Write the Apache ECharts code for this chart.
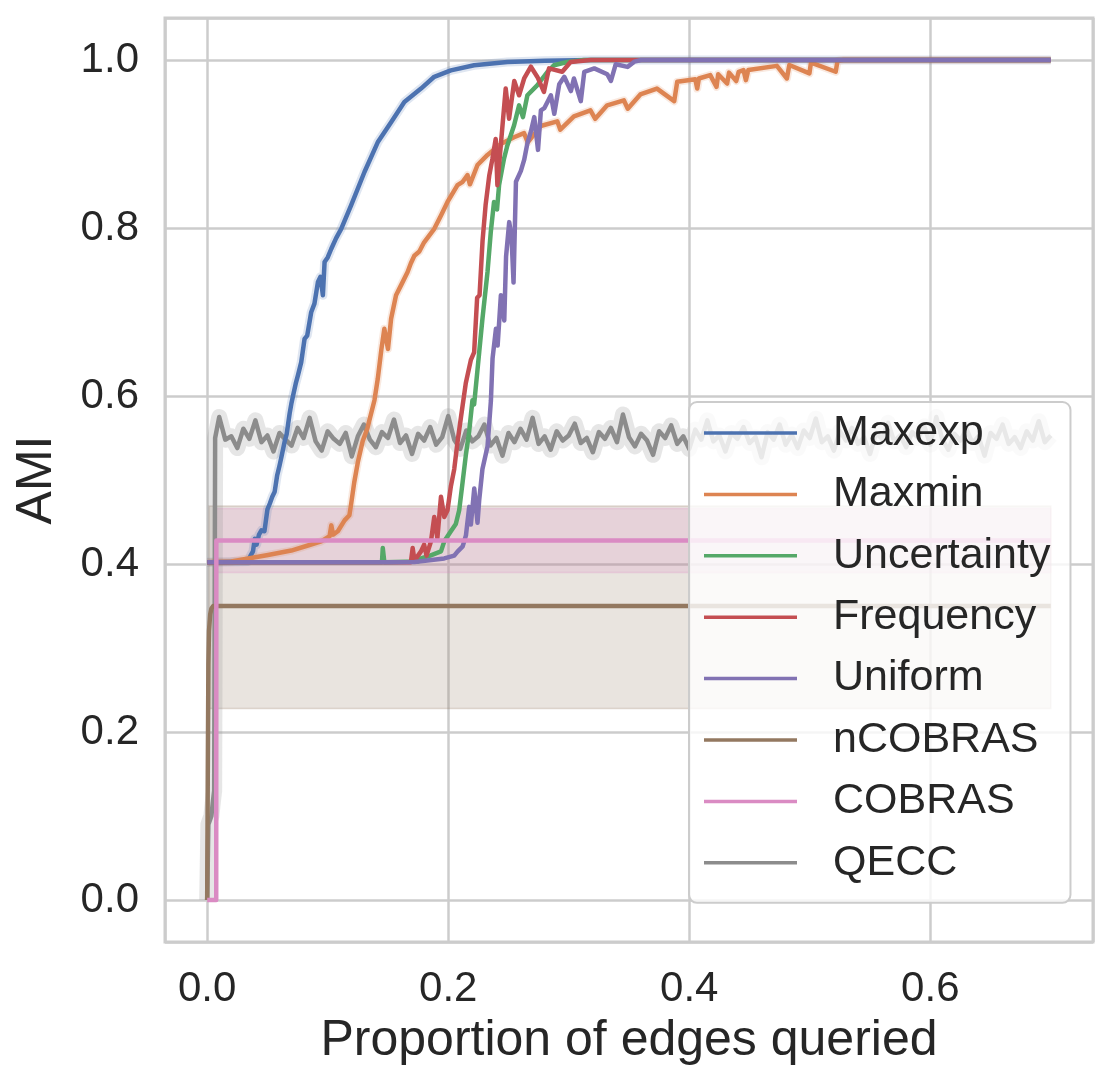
<!DOCTYPE html>
<html>
<head>
  <meta charset="utf-8">
  <title>AMI vs proportion of edges queried</title>
  <script src="https://cdn.jsdelivr.net/npm/echarts@6/dist/echarts.min.js"></script>
  <style>
    html, body { margin: 0; padding: 0; background: #fff; }
    #main { width: 1115px; height: 1089px; }
  </style>
</head>
<body>
<div id="main"></div>
<script>
  // series names and seaborn "deep" colours, in legend order
  var names = ['Maxexp', 'Maxmin', 'Uncertainty', 'Frequency', 'Uniform', 'nCOBRAS', 'COBRAS', 'QECC'];
  var colors = ['#4c72b0', '#dd8452', '#55a868', '#c44e52', '#8172b3', '#937860', '#da8bc3', '#8c8c8c'];

  // [proportion of edges queried, AMI]
  var maxexp = [[0, 0.402], [0.034, 0.403], [0.036, 0.41], [0.038, 0.415], [0.0395, 0.43], [0.041, 0.423],
    [0.043, 0.435], [0.045, 0.44], [0.0475, 0.439], [0.05, 0.465], [0.052, 0.472], [0.054, 0.48],
    [0.056, 0.486], [0.058, 0.505], [0.06, 0.517], [0.062, 0.53], [0.0643, 0.546], [0.066, 0.555],
    [0.0684, 0.579], [0.07, 0.592], [0.0712, 0.6], [0.0735, 0.615], [0.0753, 0.6246], [0.078, 0.64],
    [0.0808, 0.668], [0.083, 0.672], [0.0863, 0.6997], [0.089, 0.71], [0.0919, 0.7357], [0.094, 0.742],
    [0.096, 0.72], [0.0974, 0.7595], [0.1, 0.765], [0.1029, 0.775], [0.107, 0.788], [0.1112, 0.799],
    [0.1194, 0.827], [0.1305, 0.8667], [0.1415, 0.902], [0.1526, 0.926], [0.1636, 0.95], [0.1774, 0.966],
    [0.1884, 0.98], [0.2022, 0.9877], [0.2215, 0.9937], [0.2491, 0.9976], [0.28, 0.999], [0.32, 1.0], [0.7, 1.0]];

  var maxmin = [[0, 0.402], [0.02, 0.403], [0.034, 0.4066], [0.0505, 0.4107], [0.0698, 0.416], [0.0836, 0.422],
    [0.0946, 0.427], [0.1015, 0.433], [0.103, 0.446], [0.1045, 0.435], [0.1084, 0.439], [0.114, 0.452],
    [0.118, 0.458], [0.1195, 0.472], [0.122, 0.497], [0.125, 0.521], [0.129, 0.546], [0.133, 0.562],
    [0.1388, 0.595], [0.1415, 0.62], [0.1445, 0.655], [0.147, 0.68], [0.15, 0.656], [0.1526, 0.692],
    [0.1567, 0.72], [0.1608, 0.7317], [0.1663, 0.7476], [0.169, 0.758], [0.1719, 0.767], [0.176, 0.772],
    [0.18, 0.783], [0.1884, 0.799], [0.194, 0.815], [0.1994, 0.831], [0.2077, 0.851], [0.212, 0.855],
    [0.216, 0.863], [0.218, 0.852], [0.2243, 0.875], [0.2326, 0.887], [0.2436, 0.9], [0.2546, 0.908],
    [0.2629, 0.913], [0.266, 0.902], [0.2767, 0.9214], [0.2905, 0.927], [0.293, 0.917], [0.3043, 0.933],
    [0.318, 0.94], [0.322, 0.93], [0.3319, 0.946], [0.3457, 0.952], [0.349, 0.942], [0.3594, 0.959],
    [0.3732, 0.966], [0.3875, 0.951], [0.39, 0.974], [0.405, 0.977], [0.4066, 0.966], [0.408, 0.978],
    [0.4174, 0.982], [0.4226, 0.968], [0.424, 0.983], [0.4314, 0.972], [0.433, 0.985], [0.439, 0.975],
    [0.441, 0.986], [0.445, 0.988], [0.447, 0.976], [0.449, 0.988], [0.4727, 0.993], [0.481, 0.978],
    [0.483, 0.994], [0.4997, 0.984], [0.501, 0.997], [0.5215, 0.986], [0.523, 0.999], [0.528, 1.0], [0.7, 1.0]];

  var uncertainty = [[0, 0.402], [0.145, 0.402], [0.1457, 0.419], [0.147, 0.402], [0.175, 0.403],
    [0.1774, 0.4066], [0.185, 0.41], [0.194, 0.415], [0.1967, 0.427], [0.2022, 0.439], [0.2063, 0.4476],
    [0.2091, 0.464], [0.2119, 0.497], [0.2146, 0.5295], [0.2174, 0.558], [0.2201, 0.595], [0.2215, 0.59],
    [0.2257, 0.652], [0.2284, 0.692], [0.2326, 0.7476], [0.2353, 0.795], [0.238, 0.831], [0.2405, 0.822],
    [0.2422, 0.851], [0.2463, 0.8825], [0.249, 0.898], [0.2546, 0.922], [0.2588, 0.946], [0.262, 0.932],
    [0.2657, 0.958], [0.274, 0.97], [0.2822, 0.9857], [0.2877, 0.9937], [0.2988, 0.9976], [0.3126, 1.0], [0.7, 1.0]];

  var frequency = [[0, 0.402], [0.169, 0.402], [0.1705, 0.419], [0.172, 0.404], [0.1774, 0.415], [0.18, 0.423],
    [0.182, 0.41], [0.1857, 0.427], [0.1884, 0.456], [0.191, 0.431], [0.194, 0.48], [0.1967, 0.456],
    [0.1994, 0.464], [0.2022, 0.4926], [0.205, 0.513], [0.2077, 0.545], [0.2105, 0.574], [0.2146, 0.6155],
    [0.216, 0.617], [0.2188, 0.643], [0.2215, 0.652], [0.224, 0.717], [0.226, 0.72], [0.2285, 0.785],
    [0.231, 0.827], [0.234, 0.862], [0.2367, 0.8825], [0.2394, 0.906], [0.2408, 0.851], [0.2436, 0.898],
    [0.2477, 0.966], [0.2505, 0.93], [0.2548, 0.975], [0.2588, 0.958], [0.263, 0.978], [0.2686, 0.992],
    [0.2741, 0.9795], [0.2794, 0.962], [0.2836, 0.99], [0.2946, 0.986], [0.3015, 0.9976], [0.318, 1.0], [0.7, 1.0]];

  var uniform = [[0, 0.402], [0.15, 0.402], [0.172, 0.4025], [0.1967, 0.4066], [0.205, 0.41], [0.2077, 0.4148],
    [0.212, 0.421], [0.2147, 0.434], [0.2174, 0.468], [0.2188, 0.447], [0.2216, 0.49], [0.2243, 0.449],
    [0.2257, 0.476], [0.2284, 0.513], [0.2326, 0.54], [0.2354, 0.594], [0.2368, 0.645], [0.2396, 0.68],
    [0.241, 0.66], [0.2437, 0.72], [0.2465, 0.69], [0.248, 0.766], [0.2506, 0.807], [0.2525, 0.79],
    [0.2542, 0.735], [0.2562, 0.855], [0.2603, 0.868], [0.263, 0.881], [0.2658, 0.9016], [0.2686, 0.915],
    [0.2714, 0.932], [0.2745, 0.893], [0.2769, 0.94], [0.2797, 0.9426], [0.2852, 0.958], [0.288, 0.936],
    [0.2921, 0.971], [0.2963, 0.98], [0.3018, 0.963], [0.3043, 0.978], [0.31, 0.951], [0.3129, 0.986],
    [0.3212, 0.99], [0.332, 0.983], [0.335, 0.975], [0.339, 0.995], [0.3488, 0.9918], [0.3544, 0.998],
    [0.36, 1.0], [0.7, 1.0]];

  var ncobras = [[0, 0], [0.0005, 0.15], [0.001, 0.28], [0.0015, 0.32], [0.0025, 0.34], [0.0035, 0.347],
    [0.005, 0.35], [0.7, 0.35]];
  var cobras = [[0, 0], [0.0075, 0], [0.0076, 0.428], [0.7, 0.428]];

  // confidence bands [x from, x to, lower, upper]
  var ncobrasBand = [0.0015, 0.7, 0.228, 0.469];
  var cobrasBand = [0.0075, 0.7, 0.39, 0.466];

  // QECC: the jump at the start, then a noisy plateau sampled every 0.005 from 0.01
  var qeccRise = [[0, 0], [0.001, 0.09], [0.0035, 0.1], [0.0048, 0.118], [0.0058, 0.13], [0.0066, 0.55]];
  var qeccStart = 0.01, qeccStep = 0.005;
  var qeccNoise = [
    0.575, 0.548, 0.552, 0.538, 0.561, 0.549, 0.571, 0.545, 0.553, 0.534,
    0.556, 0.548, 0.541, 0.562, 0.55, 0.574, 0.546, 0.535, 0.558, 0.549,
    0.543, 0.556, 0.528, 0.552, 0.566, 0.548, 0.539, 0.557, 0.55, 0.572,
    0.544, 0.553, 0.531, 0.555, 0.547, 0.563, 0.542, 0.551, 0.576, 0.548,
    0.537, 0.559, 0.546, 0.552, 0.566, 0.541, 0.55, 0.529, 0.556, 0.545,
    0.561, 0.548, 0.574, 0.543, 0.552, 0.536, 0.558, 0.547, 0.553, 0.567,
    0.544, 0.55, 0.533, 0.557, 0.549, 0.562, 0.545, 0.578, 0.551, 0.54,
    0.555, 0.547, 0.53, 0.558, 0.55, 0.565, 0.543, 0.552, 0.537, 0.56,
    0.548, 0.571, 0.546, 0.553, 0.534, 0.556, 0.549, 0.563, 0.544, 0.551,
    0.527, 0.557, 0.548, 0.566, 0.542, 0.554, 0.538, 0.559, 0.55, 0.573,
    0.545, 0.552, 0.535, 0.558, 0.547, 0.562, 0.543, 0.551, 0.531, 0.556,
    0.549, 0.568, 0.546, 0.553, 0.539, 0.557, 0.55, 0.564, 0.542, 0.575,
    0.548, 0.536, 0.555, 0.547, 0.561, 0.544, 0.552, 0.529, 0.556, 0.549,
    0.566, 0.543, 0.551, 0.538, 0.558, 0.547, 0.57, 0.545, 0.553];

  var qecc = qeccRise.slice();
  for (var i = 0; i < qeccNoise.length; i++) {
    qecc.push([+(qeccStart + i * qeccStep).toFixed(4), qeccNoise[i]]);
  }

  var font = 'Liberation Sans, Arial, sans-serif';
  var textColor = '#262626';
  var gridColor = '#cccccc';

  function line(name, data, color) {
    return {
      name: name,
      type: 'line',
      data: data,
      showSymbol: false,
      symbol: 'none',
      animation: false,
      itemStyle: { color: color },
      lineStyle: { color: color, width: 4.5, join: 'round' },
      emphasis: { disabled: true }
    };
  }

  // wide pale stroke under a line, standing in for its confidence band
  function spread(data, rgba, width) {
    return {
      name: 'spread',
      type: 'line',
      data: data,
      showSymbol: false,
      symbol: 'none',
      silent: true,
      lineStyle: { color: rgba, width: width, join: 'round' }
    };
  }

  var series = [];
  // bands first so every line sits on top of them
  series.push({
    name: 'bands',
    type: 'line',
    data: [],
    silent: true,
    markArea: {
      silent: true,
      data: [
        [{ coord: [ncobrasBand[0], ncobrasBand[2]], itemStyle: { color: 'rgba(147,120,96,0.2)', borderColor: 'rgba(147,120,96,0.25)', borderWidth: 1.5 } },
         { coord: [ncobrasBand[1], ncobrasBand[3]] }],
        [{ coord: [cobrasBand[0], cobrasBand[2]], itemStyle: { color: 'rgba(218,139,195,0.2)', borderColor: 'rgba(218,139,195,0.25)', borderWidth: 1.5 } },
         { coord: [cobrasBand[1], cobrasBand[3]] }]
      ]
    }
  });
  series.push(spread(qecc, 'rgba(140,140,140,0.22)', 16));
  series.push(spread(maxexp, 'rgba(76,114,176,0.18)', 9));
  series.push(spread(maxmin, 'rgba(221,132,82,0.18)', 8));
  series.push(line('QECC', qecc, colors[7]));
  series.push(line('Maxexp', maxexp, colors[0]));
  series.push(line('Maxmin', maxmin, colors[1]));
  series.push(line('Uncertainty', uncertainty, colors[2]));
  series.push(line('Frequency', frequency, colors[3]));
  series.push(line('Uniform', uniform, colors[4]));
  series.push(line('nCOBRAS', ncobras, colors[5]));
  series.push(line('COBRAS', cobras, colors[6]));

  var myChart = echarts.init(document.getElementById('main'), null, { renderer: 'canvas' });

  var option = {
    animation: false,
    backgroundColor: '#ffffff',
    grid: {
      left: 165, right: 22, top: 18, bottom: 147,
      show: true, borderColor: gridColor, borderWidth: 3, backgroundColor: '#ffffff',
      containLabel: false, outerBoundsMode: 'none'
    },
    xAxis: {
      type: 'value',
      min: -0.035, max: 0.735,
      splitNumber: 5,
      axisLine: { show: false },
      axisTick: { show: false },
      splitLine: { show: true, lineStyle: { color: gridColor, width: 2.5 } },
      axisLabel: {
        showMinLabel: false, showMaxLabel: false,
        margin: 26, fontSize: 42, color: textColor, fontFamily: font,
        formatter: function (v) { return v.toFixed(1); }
      },
      name: 'Proportion of edges queried',
      nameLocation: 'middle',
      nameGap: 74,
      nameTextStyle: { fontSize: 50, color: textColor, fontFamily: font }
    },
    yAxis: {
      type: 'value',
      min: -0.05, max: 1.05,
      splitNumber: 5,
      axisLine: { show: false },
      axisTick: { show: false },
      splitLine: { show: true, lineStyle: { color: gridColor, width: 2.5 } },
      axisLabel: {
        showMinLabel: false, showMaxLabel: false,
        margin: 26, fontSize: 42, color: textColor, fontFamily: font,
        formatter: function (v) { return v.toFixed(1); }
      },
      name: 'AMI',
      nameLocation: 'middle',
      nameGap: 103,
      nameTextStyle: { fontSize: 50, color: textColor, fontFamily: font }
    },
    legend: {
      data: names,
      orient: 'vertical',
      left: 689, top: 402,
      z: 10,
      icon: 'rect',
      itemWidth: 93, itemHeight: 3.5,
      itemGap: 13.4,
      padding: [7, 20, 16, 15],
      backgroundColor: 'rgba(255,255,255,0.8)',
      borderColor: gridColor, borderWidth: 2, borderRadius: 8,
      selectedMode: false,
      itemStyle: { borderWidth: 0 },
      textStyle: { fontSize: 43, color: textColor, fontFamily: font, lineHeight: 48, padding: [0, 0, 0, 31] }
    },
    series: series
  };

  myChart.setOption(option);
</script>
</body>
</html>
